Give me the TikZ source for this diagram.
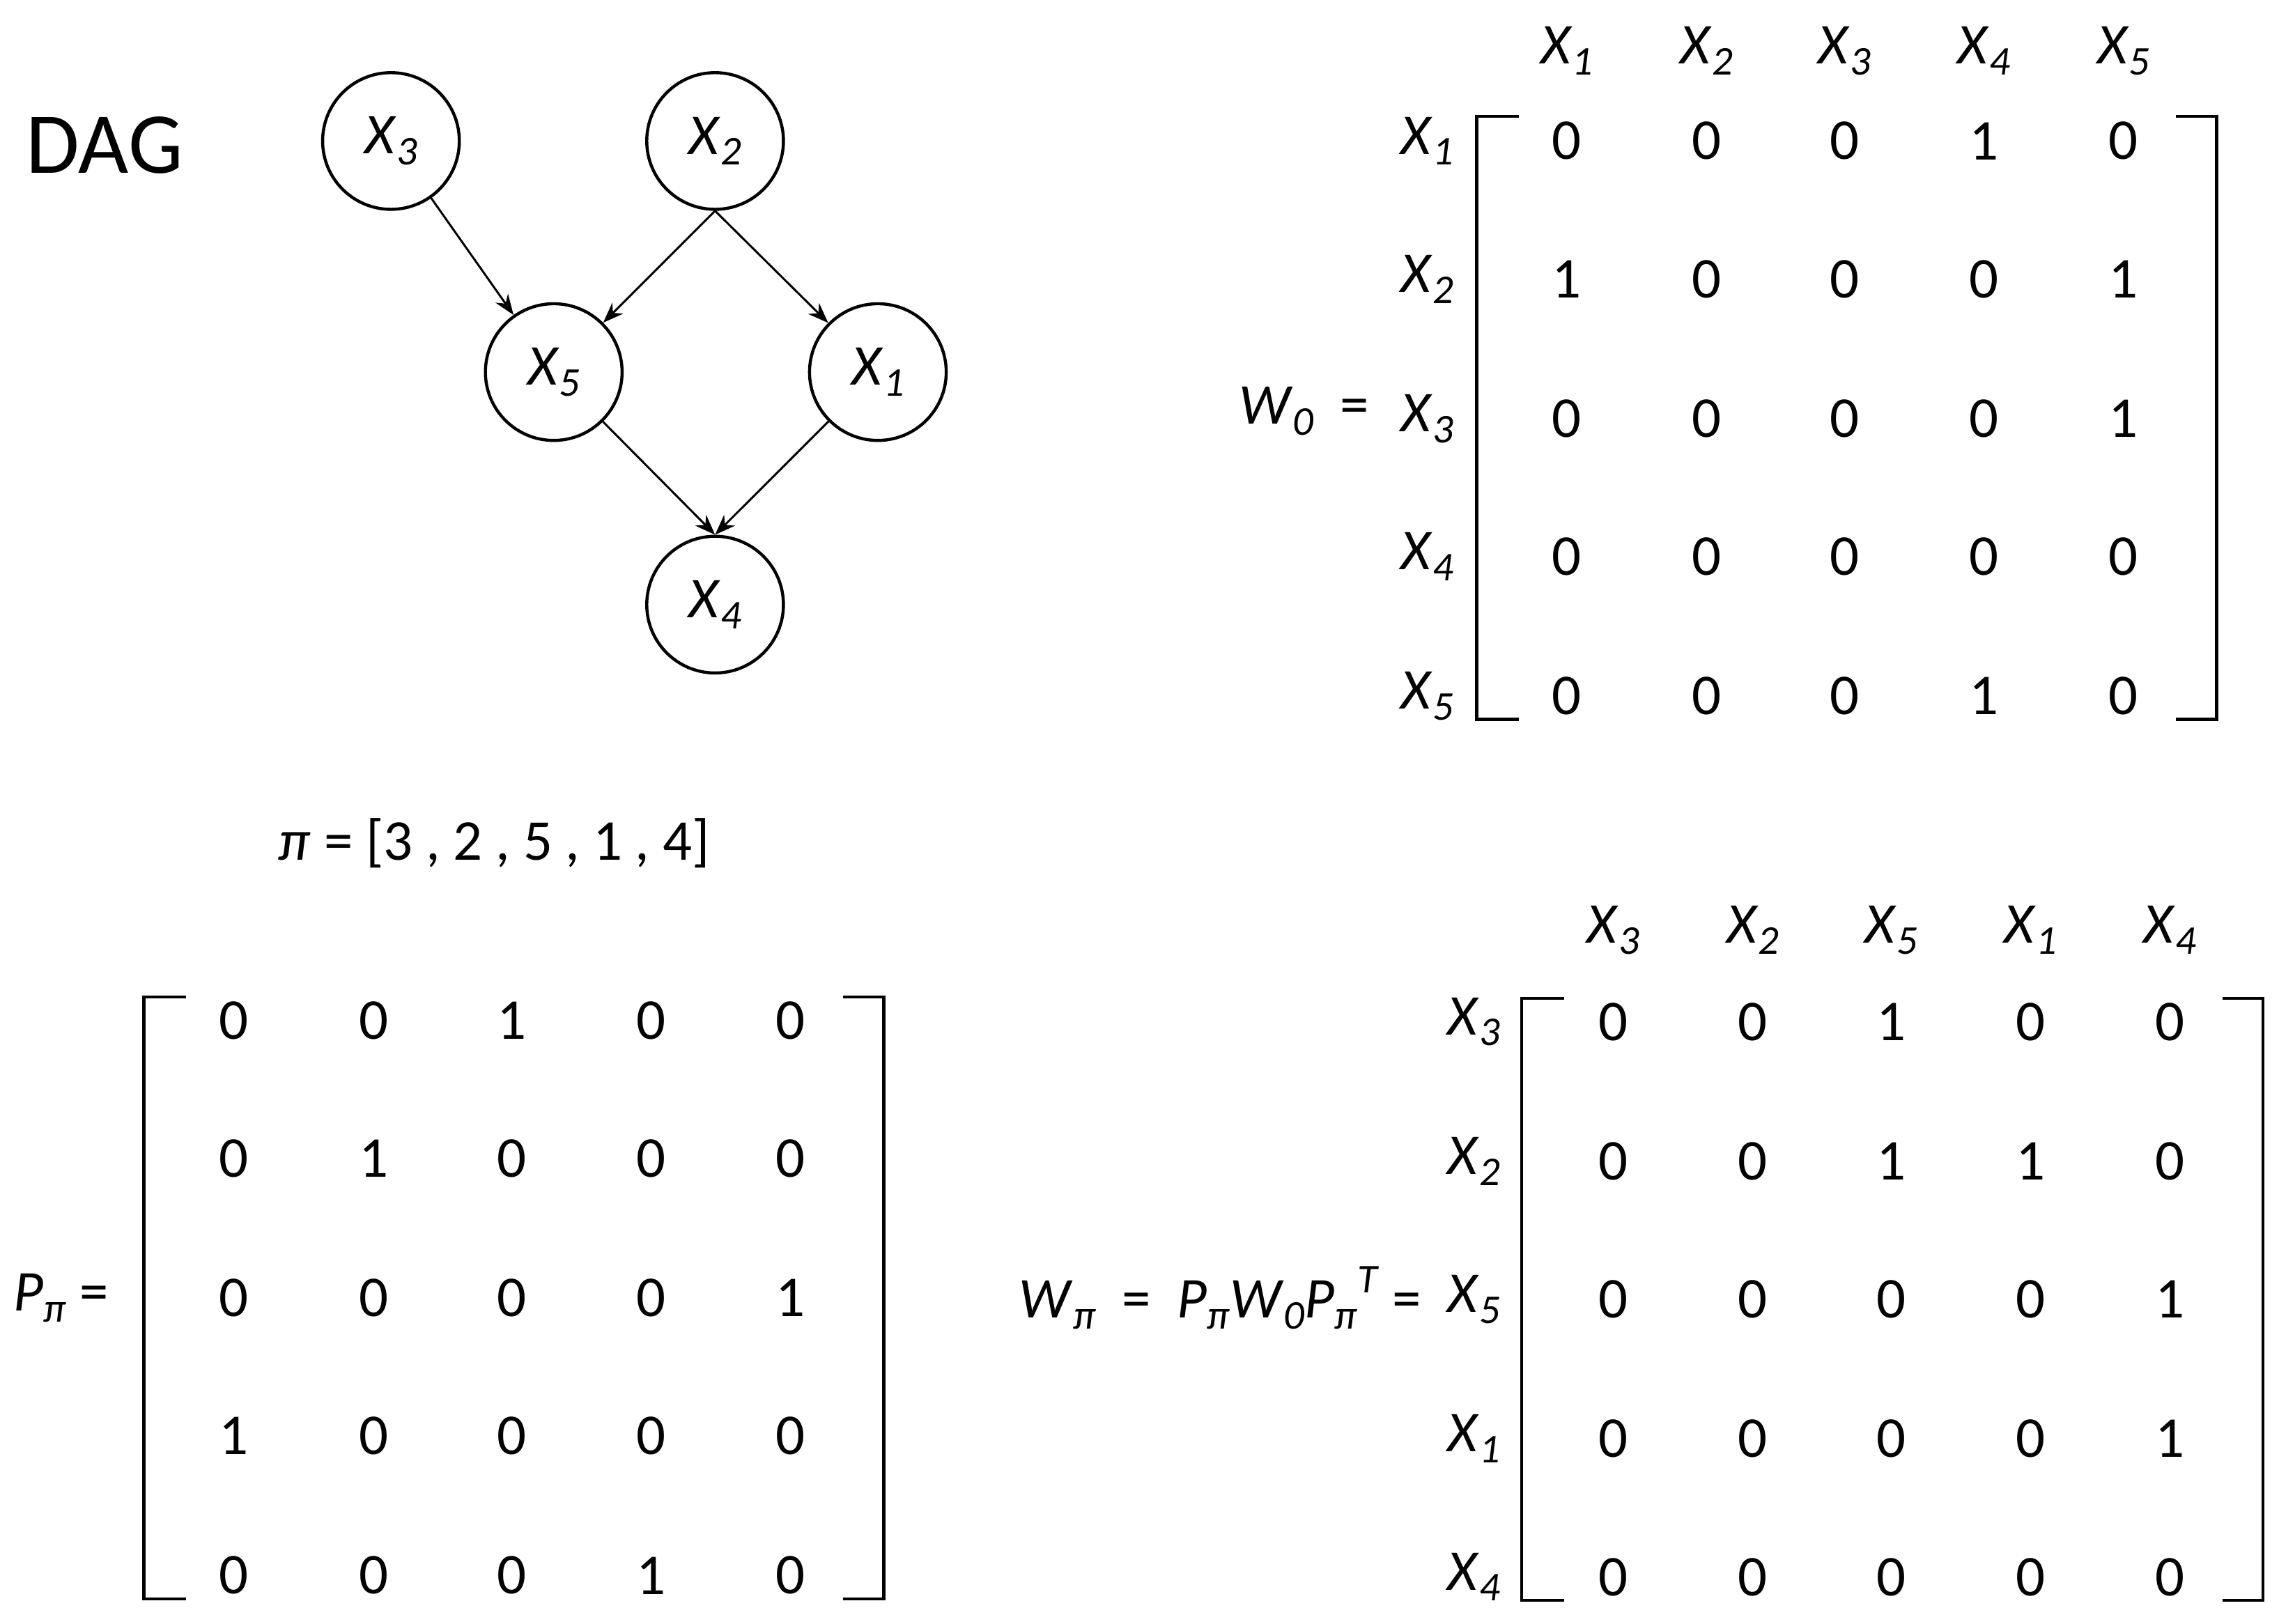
\documentclass[tikz,border=0pt]{standalone}
\usepackage{fontspec}
\setmainfont{Carlito}
\usetikzlibrary{arrows.meta}
\newcommand\Xs[1]{\textit{X}\raisebox{-0.4ex}{\footnotesize\textit{#1}}}
\newcommand\Ps{\textit{P}\raisebox{-0.4ex}{\footnotesize\textit{π}}}
\begin{document}
\begin{tikzpicture}[x=0.01cm,y=-0.01cm,
  every node/.style={font=\fontsize{11.3}{13}\selectfont},
  vnode/.style={circle,draw,line width=0.6pt,minimum size=0.94cm,inner sep=0pt},
  edge/.style={-{Stealth[length=4pt,width=3pt]},line width=0.4pt},
  brk/.style={line width=0.6pt}]
\useasboundingbox (0,0) rectangle (1568,1117);
\node (dag) at (72,100) {\fontsize{17}{20}\selectfont DAG};
\node[vnode] (x3) at (269,97) {\Xs{3}};
\node[vnode] (x2) at (492,97) {\Xs{2}};
\node[vnode] (x5) at (381,256) {\Xs{5}};
\node[vnode] (x1) at (604,256) {\Xs{1}};
\node[vnode] (x4) at (492,416) {\Xs{4}};
\draw[edge] (x3) -- (x5);
\draw[edge] (x2.south) -- (x5);
\draw[edge] (x2.south) -- (x1);
\draw[edge] (x5) -- (x4.north);
\draw[edge] (x1) -- (x4.north);
% W0
\def\cA{{1078,1174,1269,1365,1461}}
\foreach \l [count=\i from 0] in {1,2,3,4,5}{
  \pgfmathsetmacro\xx{{1078,1174,1269,1365,1461}[\i]}
  \node (wh\l) at (\xx,35) {\Xs{\l}};
}
\foreach \l [count=\i from 0] in {1,2,3,4,5}{
  \pgfmathsetmacro\yy{{97,192,288,383,479}[\i]}
  \node (wr\l) at (982,\yy) {\Xs{\l}};
}
\foreach \row [count=\r from 0] in {{0,0,0,1,0},{1,0,0,0,1},{0,0,0,0,1},{0,0,0,0,0},{0,0,0,1,0}}{
  \foreach \v [count=\c from 0] in \row{
    \pgfmathsetmacro\xx{{1078,1174,1269,1365,1461}[\c]}
    \pgfmathsetmacro\yy{{97,192,288,383,479}[\r]}
    \node (w\r\c) at (\xx,\yy) {\v};
  }
}
\draw[brk] (1045,80) -- (1016,80) -- (1016,495) -- (1045,495);
\draw[brk] (1497,80) -- (1525,80) -- (1525,495) -- (1497,495);
\node (w0eq) at (897,283) {\textit{W}\raisebox{-0.4ex}{\footnotesize\textit{0}}\ \ =};
% pi
\node (pi) at (340,580) {\textit{π} = [3 , 2 , 5 , 1 , 4]};
% P matrix
\foreach \row [count=\r from 0] in {{0,0,1,0,0},{0,1,0,0,0},{0,0,0,0,1},{1,0,0,0,0},{0,0,0,1,0}}{
  \foreach \v [count=\c from 0] in \row{
    \pgfmathsetmacro\xx{{161,257,352,448,544}[\c]}
    \pgfmathsetmacro\yy{{702,797,893,988,1084}[\r]}
    \node (p\r\c) at (\xx,\yy) {\v};
  }
}
\draw[brk] (128,686) -- (99,686) -- (99,1100) -- (128,1100);
\draw[brk] (580,686) -- (608,686) -- (608,1100) -- (580,1100);
\node (peq) at (42,893) {\Ps\ =};
% Wpi
\foreach \l [count=\i from 0] in {3,2,5,1,4}{
  \pgfmathsetmacro\xx{{1110,1206,1301,1397,1493}[\i]}
  \node (vh\i) at (\xx,640) {\Xs{\l}};
  \pgfmathsetmacro\yy{{703,799,894,990,1085}[\i]}
  \node (vr\i) at (1014,\yy) {\Xs{\l}};
}
\foreach \row [count=\r from 0] in {{0,0,1,0,0},{0,0,1,1,0},{0,0,0,0,1},{0,0,0,0,1},{0,0,0,0,0}}{
  \foreach \v [count=\c from 0] in \row{
    \pgfmathsetmacro\xx{{1110,1206,1301,1397,1493}[\c]}
    \pgfmathsetmacro\yy{{703,799,894,990,1085}[\r]}
    \node (q\r\c) at (\xx,\yy) {\v};
  }
}
\draw[brk] (1076,687) -- (1047,687) -- (1047,1101) -- (1076,1101);
\draw[brk] (1529,687) -- (1557,687) -- (1557,1101) -- (1529,1101);
\node[anchor=east] (weq) at (990,893) {\textit{W}\raisebox{-0.4ex}{\footnotesize\textit{π}}\ \ =\ \ \Ps\textit{W}\raisebox{-0.4ex}{\footnotesize\textit{0}}\Ps\raisebox{0.9ex}{\footnotesize\textit{T}} =};
\end{tikzpicture}
\end{document}
